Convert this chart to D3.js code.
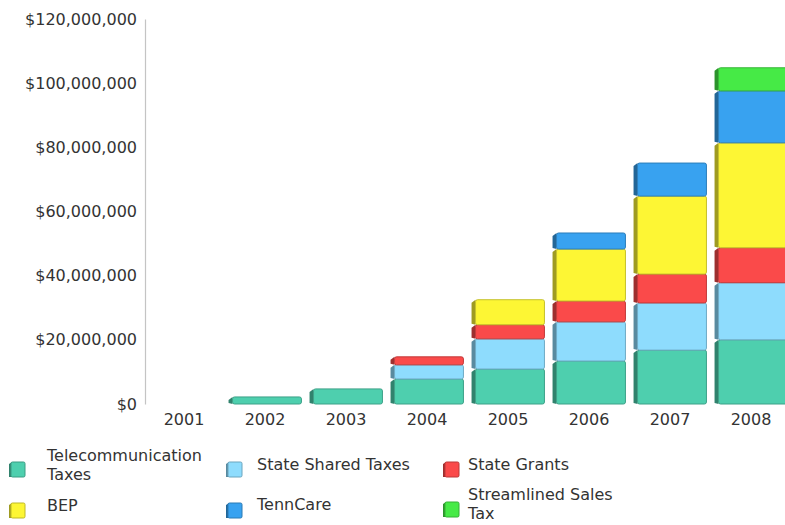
<!DOCTYPE html>
<html>
<head>
<meta charset="utf-8">
<script src="https://cdn.jsdelivr.net/npm/d3@7"></script>
<style>
  html, body { margin: 0; padding: 0; background: #fff; }
  svg { display: block; font-family: "DejaVu Sans", Verdana, sans-serif; }
</style>
</head>
<body>
<svg id="chart" width="785" height="525"></svg>
<script>
// Revenue by source, per fiscal year
const years = ["2001", "2002", "2003", "2004", "2005", "2006", "2007", "2008"];
const seriesNames = ["Telecommunication Taxes", "State Shared Taxes", "State Grants", "BEP", "TennCare", "Streamlined Sales Tax"];
const telecomTaxes   = [0, 2200000, 4700000, 7800000, 10900000, 13400000, 16800000, 20000000];
const stateShared    = [0, 0, 0, 4400000, 9400000, 12200000, 14700000, 17800000];
const stateGrants    = [0, 0, 0, 2500000, 4400000, 6500000, 9000000, 10900000];
const bep            = [0, 0, 0, 0, 7800000, 16200000, 24300000, 32700000];
const tennCare       = [0, 0, 0, 0, 0, 5000000, 10300000, 16200000];
const streamlined    = [0, 0, 0, 0, 0, 0, 0, 7200000];
const yTicks = [0, 20000000, 40000000, 60000000, 80000000, 100000000, 120000000];
const colors = ["#4ecfae", "#8edcfd", "#fa4a4a", "#fdf634", "#38a2f0", "#46ea46"];

const seriesValues = [telecomTaxes, stateShared, stateGrants, bep, tennCare, streamlined];
const rows = years.map((yr, i) => {
  const r = { year: yr };
  seriesNames.forEach((n, k) => { r[n] = seriesValues[k][i]; });
  return r;
});

const svg = d3.select("#chart");
const depth = 4;

const x = d3.scaleBand().domain(years).range([143.5, 791.5]).paddingInner(0.1).paddingOuter(0.05);
const y = d3.scaleLinear().domain([0, 120000000]).range([404, 19]);

// Y axis
const yAxis = svg.append("g")
  .attr("transform", "translate(145,0)")
  .call(d3.axisLeft(y).tickValues(yTicks).tickSize(0).tickPadding(8)
    .tickFormat(d => "$" + d3.format(",")(d)));
yAxis.select(".domain").attr("stroke", "#c4c4c4").attr("stroke-width", 1.2);
yAxis.selectAll("text").attr("font-size", 16).attr("fill", "#333")
  .attr("font-family", "DejaVu Sans, Verdana, sans-serif");

// Stacked bars with a shallow 3D side face
const stacked = d3.stack().keys(seriesNames)(rows);
const layers = svg.append("g").selectAll("g")
  .data(stacked)
  .join("g")
  .attr("data-series", (d, i) => seriesNames[i]);

layers.each(function(layer, si) {
  const base = d3.color(colors[si]);
  const g = d3.select(this);
  const segs = layer.filter(d => d[1] - d[0] > 0);
  // side face
  g.selectAll("path.side").data(segs).join("path")
    .attr("class", "side")
    .attr("fill", base.darker(1.3))
    .attr("d", d => {
      const xf = x(d.data.year) + depth;
      const xs = xf - depth;
      const t = y(d[1]), b = y(d[0]);
      return `M${xs},${t + 3}L${xf},${t}L${xf},${b}L${xs},${b - 1}Z`;
    });
  // front face
  g.selectAll("rect.front").data(segs).join("rect")
    .attr("class", "front")
    .attr("x", d => x(d.data.year) + depth)
    .attr("y", d => y(d[1]))
    .attr("width", x.bandwidth() - depth)
    .attr("height", d => y(d[0]) - y(d[1]))
    .attr("rx", 2)
    .attr("fill", base)
    .attr("stroke", base.darker(0.7))
    .attr("stroke-width", 1);
});

// Year labels
svg.append("g").selectAll("text")
  .data(years)
  .join("text")
  .attr("x", d => x(d) + x.bandwidth() / 2)
  .attr("y", 425)
  .attr("text-anchor", "middle")
  .attr("font-size", 16)
  .attr("fill", "#333")
  .text(d => d);

// Legend
const legendItems = [
  { name: seriesNames[0], lines: ["Telecommunication", "Taxes"], sx: 9,   sy: 462, tx: 47,  ty: 461 },
  { name: seriesNames[1], lines: ["State Shared Taxes"],          sx: 226, sy: 462, tx: 257, ty: 470 },
  { name: seriesNames[2], lines: ["State Grants"],                sx: 443, sy: 462, tx: 468, ty: 470 },
  { name: seriesNames[3], lines: ["BEP"],                         sx: 9,   sy: 503, tx: 47,  ty: 511 },
  { name: seriesNames[4], lines: ["TennCare"],                    sx: 226, sy: 503, tx: 257, ty: 510 },
  { name: seriesNames[5], lines: ["Streamlined Sales", "Tax"],    sx: 443, sy: 502, tx: 468, ty: 500 }
];
const legend = svg.append("g").selectAll("g")
  .data(legendItems)
  .join("g");
legend.each(function(d) {
  const g = d3.select(this);
  const c = d3.color(colors[seriesNames.indexOf(d.name)]);
  g.append("path")
    .attr("fill", c.darker(1.3))
    .attr("d", `M${d.sx},${d.sy + 2}L${d.sx + 3},${d.sy}L${d.sx + 3},${d.sy + 15}L${d.sx},${d.sy + 15}Z`);
  g.append("rect")
    .attr("x", d.sx + 2).attr("y", d.sy)
    .attr("width", 14).attr("height", 15)
    .attr("rx", 1.5)
    .attr("fill", c)
    .attr("stroke", c.darker(0.8)).attr("stroke-width", 1);
  g.selectAll("text").data(d.lines).join("text")
    .attr("x", d.tx)
    .attr("y", (t, i) => d.ty + i * 19)
    .attr("font-size", 16)
    .attr("fill", "#333")
    .text(t => t);
});
</script>
</body>
</html>
